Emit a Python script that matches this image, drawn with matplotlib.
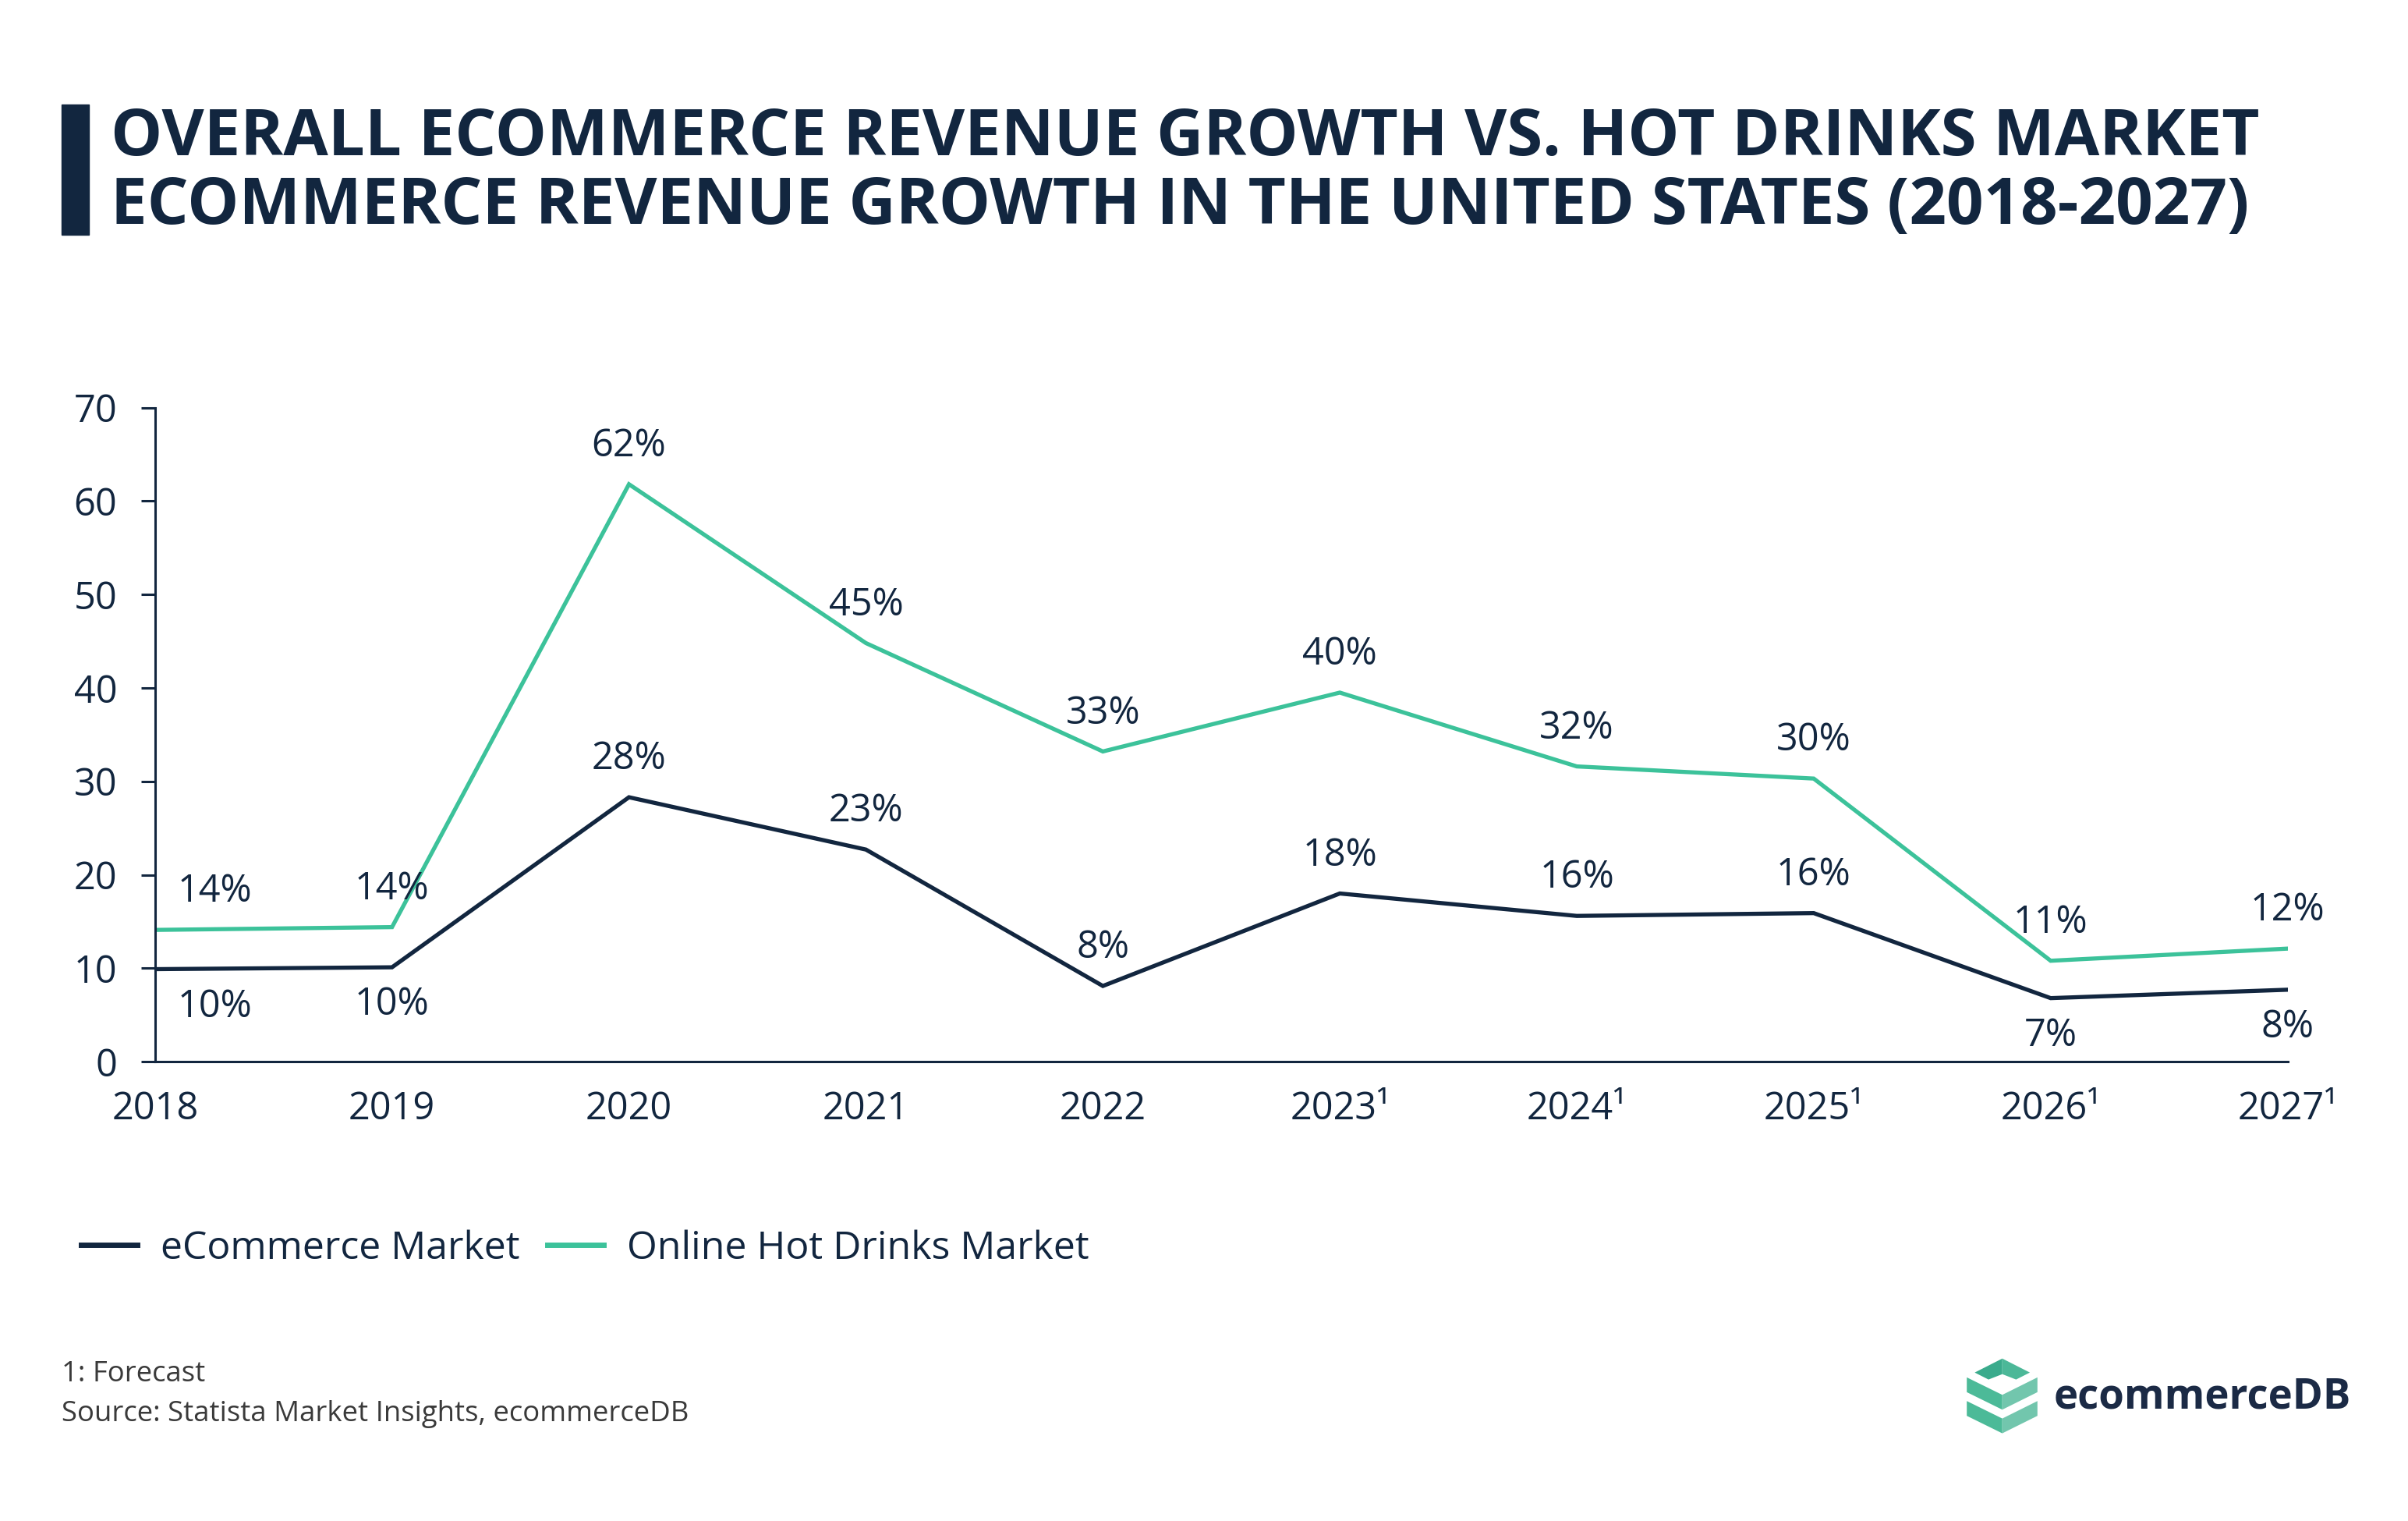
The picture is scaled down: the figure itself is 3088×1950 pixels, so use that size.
import matplotlib.pyplot as plt
from matplotlib.patches import Polygon, Rectangle
from matplotlib.lines import Line2D

plt.rcParams['font.family'] = ['Open Sans', 'DejaVu Sans']

NAVY = '#12263f'
GREEN = '#3cc29a'

years = ['2018', '2019', '2020', '2021', '2022', '2023¹', '2024¹', '2025¹', '2026¹', '2027¹']
ecommerce = [9.9, 10.1, 28.3, 22.7, 8.1, 18.0, 15.6, 15.9, 6.8, 7.7]
hot_drinks = [14.1, 14.4, 61.8, 44.8, 33.2, 39.5, 31.6, 30.3, 10.8, 12.1]
ecom_labels = ['10%', '10%', '28%', '23%', '8%', '18%', '16%', '16%', '7%', '8%']
drinks_labels = ['14%', '14%', '62%', '45%', '33%', '40%', '32%', '30%', '11%', '12%']
ecom_below = [True, True, False, False, False, False, False, False, True, True]

fig = plt.figure(figsize=(30.88, 19.5), dpi=100)
ax = fig.add_axes([0.0644, 0.302, 0.8856, 0.430])

x = list(range(len(years)))
ax.plot(x, ecommerce, color=NAVY, lw=3.8, label='eCommerce Market', solid_joinstyle='miter')
ax.plot(x, hot_drinks, color=GREEN, lw=3.8, label='Online Hot Drinks Market', solid_joinstyle='miter')

# data labels
for i in x:
    dx = 55 if i == 0 else 0
    ax.annotate(drinks_labels[i], (i, hot_drinks[i]), xytext=(dx, 35), textcoords='offset points',
                ha='center', va='center', fontsize=35, color=NAVY)
    dy = -35 if ecom_below[i] else 35
    ax.annotate(ecom_labels[i], (i, ecommerce[i]), xytext=(dx, dy), textcoords='offset points',
                ha='center', va='center', fontsize=35, color=NAVY)

ax.set_xlim(0, 9)
ax.set_ylim(0, 70)
ax.set_yticks(range(0, 71, 10))
ax.set_xticks(x)
ax.set_xticklabels(years)
for s in ['top', 'right']:
    ax.spines[s].set_visible(False)
for s in ['left', 'bottom']:
    ax.spines[s].set_color(NAVY)
    ax.spines[s].set_linewidth(2.2)
ax.tick_params(axis='y', length=13, width=2.2, color=NAVY, pad=22, labelsize=35, labelcolor=NAVY)
ax.tick_params(axis='x', length=0, pad=26, labelsize=35, labelcolor=NAVY)

# title
fig.patches.append(Rectangle((79 / 3088, 1 - 301 / 1950), 35 / 3088, 167 / 1950,
                             transform=fig.transFigure, color=NAVY))
fig.text(142 / 3088, 1 - 177 / 1950, 'OVERALL ECOMMERCE REVENUE GROWTH VS. HOT DRINKS MARKET',
         fontsize=60, fontweight='bold', color=NAVY, va='center', ha='left')
fig.text(142 / 3088, 1 - 266 / 1950, 'ECOMMERCE REVENUE GROWTH IN THE UNITED STATES (2018-2027)',
         fontsize=60, fontweight='bold', color=NAVY, va='center', ha='left')

# legend
handles = [Line2D([], [], color=NAVY, lw=5), Line2D([], [], color=GREEN, lw=5)]
fig.legend(handles, ['eCommerce Market', 'Online Hot Drinks Market'], loc='center left',
           bbox_to_anchor=(0.019, 1 - 1601 / 1950), ncol=2, frameon=False, fontsize=36,
           handlelength=1.45, handletextpad=0.6, columnspacing=0.7, labelcolor=NAVY)

# footnotes
fig.text(79 / 3088, 1 - 1762 / 1950, '1: Forecast', fontsize=26.3, color='#3a3a3a', va='center')
fig.text(79 / 3088, 1 - 1813 / 1950, 'Source: Statista Market Insights, ecommerceDB', fontsize=26.3,
         color='#3a3a3a', va='center')

# logo
lax = fig.add_axes([2520 / 3088, 1 - 1840 / 1950, 95 / 3088, 100 / 1950])
lax.set_xlim(180, 395)
lax.set_ylim(415, 125)
lax.axis('off')
lax.add_patch(Polygon([(208, 182), (288, 130), (288, 188), (248, 208)], color='#3aab8c', lw=0))
lax.add_patch(Polygon([(288, 130), (368, 182), (328, 208), (288, 188)], color='#4cb898', lw=0))
for off in (0, 88):
    lax.add_patch(Polygon([(185, 200 + off), (288, 265 + off), (288, 320 + off), (185, 255 + off)],
                          color='#4cba98', lw=0))
    lax.add_patch(Polygon([(288, 265 + off), (390, 200 + off), (390, 255 + off), (288, 320 + off)],
                          color='#72c6ad', lw=0))
fig.text(2634 / 3088, 1 - 1792 / 1950, 'ecommerceDB', fontsize=38, fontweight='bold',
         color='#1b2a45', va='center', ha='left')

fig.savefig('out.png', dpi=100)
